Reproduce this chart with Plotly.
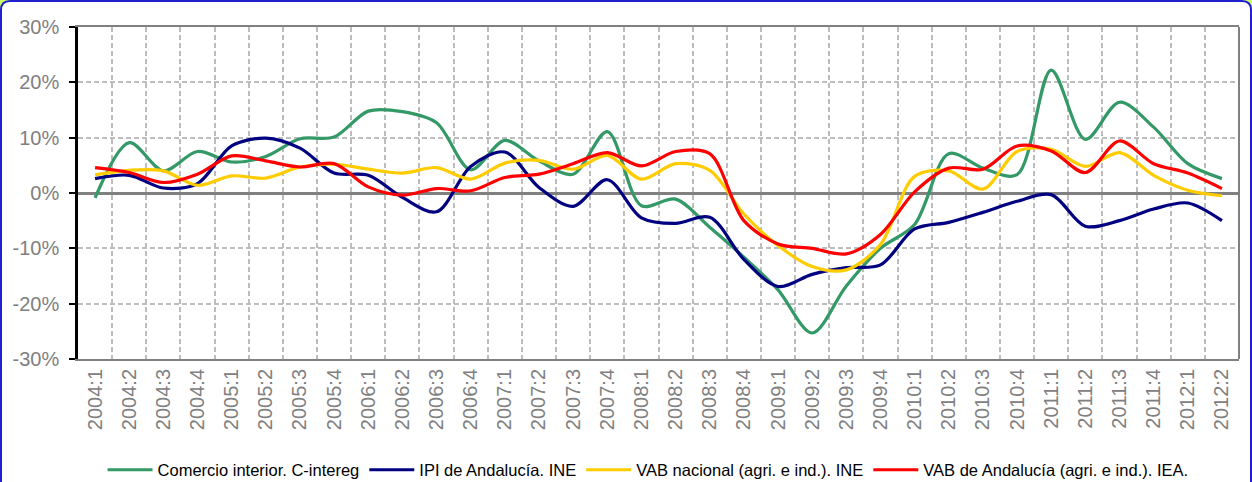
import plotly.graph_objects as go

quarters = ["2004:1", "2004:2", "2004:3", "2004:4", "2005:1", "2005:2", "2005:3", "2005:4",
            "2006:1", "2006:2", "2006:3", "2006:4", "2007:1", "2007:2", "2007:3", "2007:4",
            "2008:1", "2008:2", "2008:3", "2008:4", "2009:1", "2009:2", "2009:3", "2009:4",
            "2010:1", "2010:2", "2010:3", "2010:4", "2011:1", "2011:2", "2011:3", "2011:4",
            "2012:1", "2012:2"]

comercio = [-0.9, 9.1, 4.0, 7.5, 5.6, 6.6, 9.8, 10.1, 14.8, 14.7, 12.7, 4.2, 9.5, 5.8, 3.4, 11.1,
            -2.3, -1.1, -6.2, -11.6, -17.5, -25.3, -16.8, -10.0, -5.7, 7.1, 4.5, 3.3, 22.2, 9.7,
            16.4, 11.9, 5.3, 2.6]
ipi = [2.6, 3.2, 0.9, 1.7, 8.5, 9.9, 8.1, 3.6, 3.2, -0.8, -3.4, 4.8, 7.4, 1.0, -2.4, 2.4,
       -4.5, -5.5, -4.4, -12.0, -16.9, -14.7, -13.5, -13.0, -6.5, -5.3, -3.5, -1.5, -0.3, -6.0,
       -5.0, -2.9, -1.8, -5.0]
vab_nacional = [3.3, 4.1, 4.0, 1.4, 3.1, 2.7, 4.7, 5.2, 4.3, 3.6, 4.6, 2.5, 5.4, 5.9, 4.3, 6.8,
                2.5, 5.3, 4.1, -3.8, -9.5, -13.3, -13.9, -9.3, 3.0, 4.0, 0.7, 7.5, 7.9, 4.8,
                7.3, 3.2, 0.5, -0.5]
vab_andalucia = [4.6, 3.7, 1.9, 3.4, 6.7, 5.8, 4.7, 5.3, 1.1, -0.4, 0.8, 0.4, 2.8, 3.4, 5.3, 7.3,
                 4.9, 7.5, 7.1, -5.0, -9.2, -10.0, -11.0, -7.5, 0.2, 4.5, 4.3, 8.5, 7.6, 3.7,
                 9.4, 5.3, 3.6, 0.8]

series_names = ["Comercio interior. C-intereg", "IPI de Andalucía. INE",
                "VAB nacional (agri. e ind.). INE", "VAB de Andalucía (agri. e ind.). IEA."]
series_colors = ["#339966", "#000080", "#FFCC00", "#FF0000"]

y_tickvals = [-30, -20, -10, 0, 10, 20, 30]
y_ticktext = ["-30%", "-20%", "-10%", "0%", "10%", "20%", "30%"]

W, H = 1252, 482
ML, MR, MT, MB = 78, 13, 27, 123
PW, PH = W - ML - MR, H - MT - MB


def px(x):
    return (x - ML) / PW


def py(y):
    return (H - MB - y) / PH


def rounded_rect(x0, y0, x1, y1, r):
    rx, ry = r / PW, r / PH
    X0, X1, Y0, Y1 = px(x0), px(x1), py(y0), py(y1)  # Y0 top, Y1 bottom
    return (f"M {X0 + rx},{Y0} L {X1 - rx},{Y0} Q {X1},{Y0} {X1},{Y0 - ry} "
            f"L {X1},{Y1 + ry} Q {X1},{Y1} {X1 - rx},{Y1} "
            f"L {X0 + rx},{Y1} Q {X0},{Y1} {X0},{Y1 + ry} "
            f"L {X0},{Y0 - ry} Q {X0},{Y0} {X0 + rx},{Y0} Z")


fig = go.Figure()
for name, vals, col in zip(series_names, [comercio, ipi, vab_nacional, vab_andalucia], series_colors):
    fig.add_trace(go.Scatter(x=quarters, y=vals, name=name, mode="lines",
                             line=dict(color=col, width=3.2, shape="spline", smoothing=0.9)))

fig.update_layout(
    width=W, height=H,
    margin=dict(l=ML, r=MR, t=MT, b=MB),
    paper_bgcolor="#CCFF66",
    plot_bgcolor="white",
    font=dict(family="Liberation Sans, Arial, sans-serif", color="#808080"),
    showlegend=True,
    legend=dict(orientation="h", x=0.491, xanchor="center", xref="paper",
                y=(H - 470) / H, yanchor="middle", yref="container",
                font=dict(family="Liberation Sans, Arial", size=16.5, color="black"),
                bgcolor="rgba(0,0,0,0)", itemwidth=45, tracegroupgap=0),
    xaxis=dict(type="category", tickson="boundaries", tickangle=-90,
               showgrid=True, gridcolor="#BDBDBD", griddash="5px,3px", gridwidth=1.5,
               showline=True, linecolor="#808080", linewidth=2, mirror=True,
               ticks="", tickfont=dict(size=20, color="#808080"),
               range=[-0.5, len(quarters) - 0.5]),
    yaxis=dict(range=[-30, 30], tickvals=y_tickvals, ticktext=y_ticktext,
               showgrid=True, gridcolor="#BDBDBD", griddash="5px,3px", gridwidth=1.5,
               zeroline=True, zerolinecolor="#808080", zerolinewidth=2.5,
               showline=True, linecolor="black", linewidth=2.5, mirror=False,
               ticks="outside", ticklen=6, tickwidth=2, tickcolor="black",
               ticklabelstandoff=6,
               tickfont=dict(size=20, color="#808080")),
    shapes=[
        dict(type="path", xref="paper", yref="paper", path=rounded_rect(1, 1, W - 1, H + 30, 9),
             fillcolor="white", line=dict(color="#2020D0", width=2), layer="below"),
        dict(type="line", xref="paper", yref="paper", x0=1, x1=1, y0=0, y1=1,
             line=dict(color="#808080", width=2), layer="above"),
    ],
)

fig.write_html("out.html", config={"displayModeBar": False},
               post_script="document.body.style.margin='0';document.body.style.overflow='hidden';")
